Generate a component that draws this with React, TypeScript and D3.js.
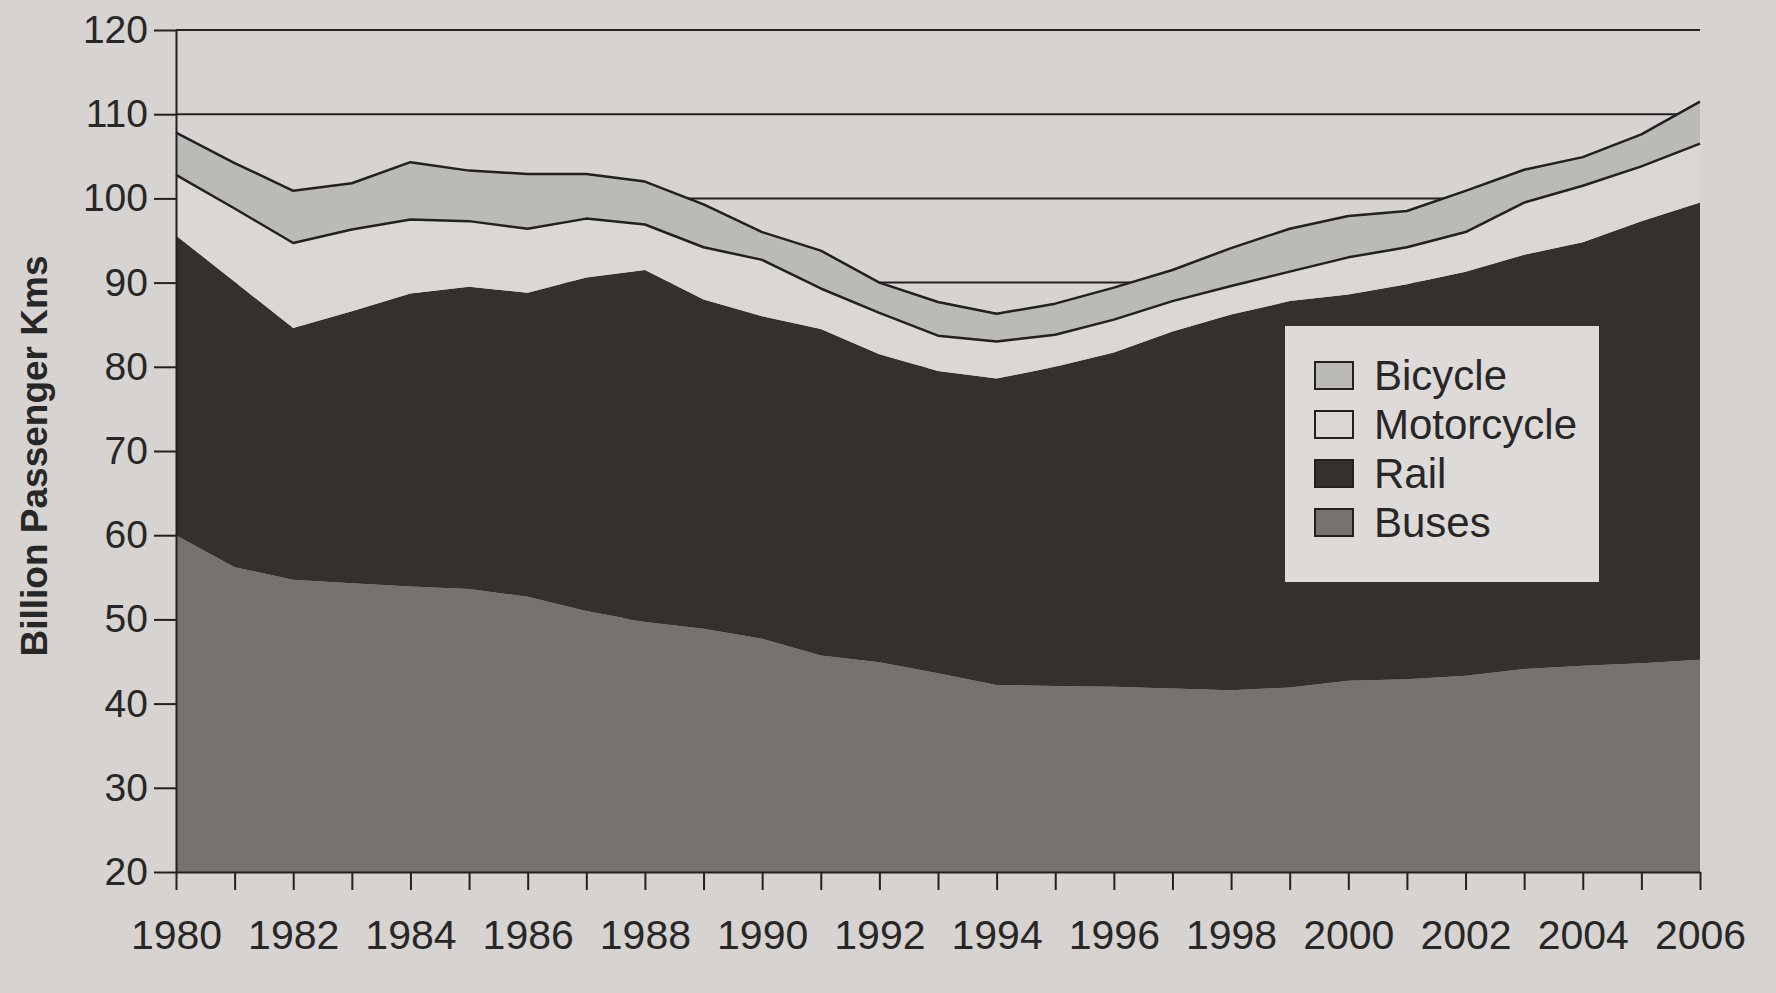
import React, { useEffect, useRef } from "react";
import { select, scaleLinear, stack, area, line, axisLeft, axisBottom } from "d3";

// passenger km by mode, billions (perspective corrected)
const years = [
  1980, 1981, 1982, 1983, 1984, 1985, 1986, 1987, 1988, 1989, 1990, 1991, 1992,
  1993, 1994, 1995, 1996, 1997, 1998, 1999, 2000, 2001, 2002, 2003, 2004, 2005,
  2006,
];
const buses = [
  60.0, 56.2, 54.7, 54.3, 53.9, 53.6, 52.7, 51.0, 49.7, 48.9, 47.7, 45.7, 44.9,
  43.6, 42.2, 42.1, 42.0, 41.8, 41.6, 41.9, 42.7, 42.9, 43.3, 44.1, 44.5, 44.8,
  45.2,
];
const rail = [
  35.6, 33.9, 29.9, 32.3, 34.8, 35.9, 36.1, 39.6, 41.8, 39.1, 38.3, 38.8, 36.6,
  35.9, 36.4, 37.9, 39.7, 42.4, 44.6, 45.9, 45.9, 46.9, 48.0, 49.2, 50.3, 52.5,
  54.3,
];
const motorcycle = [
  7.2, 8.7, 10.1, 9.7, 8.8, 7.8, 7.6, 7.0, 5.4, 6.2, 6.7, 4.8, 4.9, 4.2, 4.4,
  3.8, 3.9, 3.6, 3.4, 3.5, 4.4, 4.4, 4.7, 6.2, 6.7, 6.5, 7.0,
];
const bicycle = [
  5.0, 5.4, 6.2, 5.5, 6.8, 6.0, 6.5, 5.3, 5.1, 5.1, 3.3, 4.5, 3.6, 4.0, 3.3,
  3.7, 3.8, 3.7, 4.5, 5.1, 4.9, 4.3, 4.9, 3.9, 3.4, 3.8, 5.0,
];

const stackKeys = ["Buses", "Rail", "Motorcycle", "Bicycle"];
const legendLabels = ["Bicycle", "Motorcycle", "Rail", "Buses"];
const yTicks = [20, 30, 40, 50, 60, 70, 80, 90, 100, 110, 120];
const yTitle = "Billion Passenger Kms";

const WIDTH = 1776;
const HEIGHT = 993;
const plotLeft = 176;
const plotRight = 1700;
const plotTop = 30;
const plotBottom = 872;

const PAPER = "#d6d3d0";
const INK = "#222020";
const TEXT = "#282727";
const FONT = "'Liberation Sans', Arial, Helvetica, sans-serif";

const fills: Record<string, string> = {
  Buses: "#75726f",
  Rail: "#34302e",
  Motorcycle: "#dad7d4",
  Bicycle: "#bcbab7",
};

export default function App() {
  const svgRef = useRef<SVGSVGElement | null>(null);

  useEffect(() => {
    const svg = select(svgRef.current);
    svg.selectAll("*").remove();

    const x = scaleLinear().domain([1980, 2006]).range([plotLeft, plotRight]);
    const y = scaleLinear()
      .domain([20, 120])
      .range([plotBottom, plotTop])
      .clamp(true);

    svg
      .append("rect")
      .attr("width", WIDTH)
      .attr("height", HEIGHT)
      .attr("fill", PAPER);

    // gridlines sit behind the areas, only the upper ones show
    svg
      .append("g")
      .selectAll("line")
      .data(yTicks.filter((t) => t > 20))
      .join("line")
      .attr("x1", plotLeft)
      .attr("x2", plotRight)
      .attr("y1", (d) => y(d))
      .attr("y2", (d) => y(d))
      .attr("stroke", INK)
      .attr("stroke-width", 2);

    const rows = years.map((yr, i) => ({
      year: yr,
      Buses: buses[i],
      Rail: rail[i],
      Motorcycle: motorcycle[i],
      Bicycle: bicycle[i],
    }));
    const series = stack<any>().keys(stackKeys)(rows);

    const fillArea = area<any>()
      .x((d) => x(d.data.year))
      .y0((d) => y(d[0]))
      .y1((d) => y(d[1]));

    svg
      .append("g")
      .selectAll("path")
      .data(series)
      .join("path")
      .attr("d", (d: any) => fillArea(d))
      .attr("fill", (d: any) => fills[d.key]);

    const topLine = line<any>()
      .x((d) => x(d.data.year))
      .y((d) => y(d[1]));

    svg
      .append("g")
      .attr("fill", "none")
      .attr("stroke", INK)
      .attr("stroke-width", 2.5)
      .attr("stroke-linejoin", "round")
      .selectAll("path")
      .data(series.filter((s: any) => s.key === "Motorcycle" || s.key === "Bicycle"))
      .join("path")
      .attr("d", (d: any) => topLine(d));

    const yAxis = axisLeft(y)
      .tickValues(yTicks)
      .tickSize(22)
      .tickSizeOuter(0)
      .tickPadding(6)
      .tickFormat((d: any) => String(d));
    const gy = svg
      .append("g")
      .attr("transform", `translate(${plotLeft},0)`)
      .call(yAxis as any);
    gy.attr("font-size", 39).attr("font-family", FONT);
    gy.selectAll("path, line").attr("stroke", INK).attr("stroke-width", 2);
    gy.selectAll("text").attr("fill", TEXT);

    const xAxis = axisBottom(x)
      .tickValues(years)
      .tickSize(18)
      .tickSizeOuter(0)
      .tickPadding(30)
      .tickFormat((d: any) => (d % 2 === 0 ? String(d) : ""));
    const gx = svg
      .append("g")
      .attr("transform", `translate(0,${plotBottom})`)
      .call(xAxis as any);
    gx.attr("font-size", 41).attr("font-family", FONT);
    gx.selectAll("path, line").attr("stroke", INK).attr("stroke-width", 2);
    gx.selectAll("text").attr("fill", TEXT);

    svg
      .append("text")
      .attr("transform", `translate(47,456) rotate(-90)`)
      .attr("text-anchor", "middle")
      .attr("font-family", FONT)
      .attr("font-weight", "bold")
      .attr("font-size", 37)
      .attr("fill", TEXT)
      .text(yTitle);

    // legend
    const legend = svg.append("g").attr("transform", "translate(1285,326)");
    legend
      .append("rect")
      .attr("width", 314)
      .attr("height", 256)
      .attr("fill", "#dddad7");
    const item = legend
      .selectAll("g")
      .data(legendLabels)
      .join("g")
      .attr("transform", (_d, i) => `translate(30,${49 + i * 49})`);
    item
      .append("rect")
      .attr("x", 0)
      .attr("y", -13)
      .attr("width", 38)
      .attr("height", 27)
      .attr("fill", (d) => fills[d])
      .attr("stroke", INK)
      .attr("stroke-width", 2);
    item
      .append("text")
      .attr("x", 59)
      .attr("dy", "0.36em")
      .attr("font-family", FONT)
      .attr("font-size", 42)
      .attr("fill", TEXT)
      .text((d) => d);
  }, []);

  return (
    <div>
      <style>{"body { margin: 0; }"}</style>
      <svg ref={svgRef} width={WIDTH} height={HEIGHT} style={{ display: "block" }} />
    </div>
  );
}
